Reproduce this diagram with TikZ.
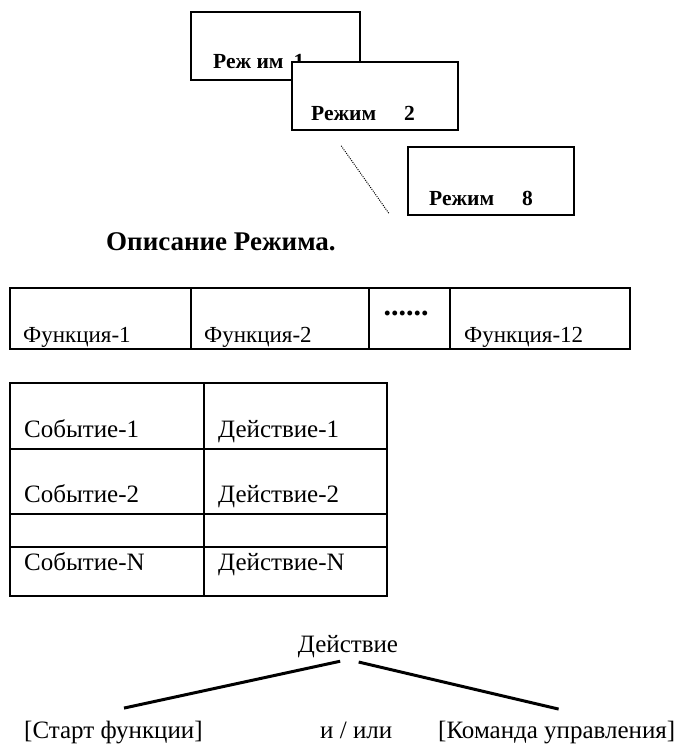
\documentclass[tikz,border=0pt]{standalone}
\usepackage{fontspec}
\setmainfont{Liberation Serif}
\usetikzlibrary{calc}
\begin{document}
\begin{tikzpicture}[x=1pt, y=-1pt,
    modebox/.style={draw, rectangle, line width=1.6pt, fill=white, minimum height=68pt, inner sep=0pt},
    cell/.style={draw, rectangle, line width=1.2pt, inner sep=0pt},
    modetxt/.style={anchor=base west, inner sep=1pt, font=\fontsize{21.5}{24}\selectfont\bfseries},
    funtxt/.style={anchor=base west, inner sep=1pt, font=\fontsize{23}{27}\selectfont},
    celltxt/.style={anchor=base west, inner sep=1pt, font=\fontsize{25}{29}\selectfont},
    branch/.style={line width=3pt}]
    \useasboundingbox (0,0) rectangle (677,747);

    % режимы
    \node (mode1) [modebox, minimum width=169pt] at (275.5, 46) {};
    \node (mode1_txt) [modetxt] at (212, 68) {Реж им\hspace{10pt}1};
    \node (mode2) [modebox, minimum width=166pt] at (375, 96) {};
    \node (mode2_txt) [modetxt] at (310, 120) {Режим\hspace{28pt}2};
    \node (mode8) [modebox, minimum width=166pt] at (491, 181) {};
    \node (mode8_txt) [modetxt] at (428, 205) {Режим\hspace{28pt}8};
    \draw[line width=1pt, dash pattern=on 1pt off 1.2pt] ($(mode2.south west)+(50,15)$) -- ($(mode8.south west)+(-18,-2)$);

    \node (title) [anchor=base west, inner sep=1pt, font=\fontsize{27}{31}\selectfont\bfseries] at (105, 250) {Описание Режима.};

    % функции
    \node (fun1) [cell, minimum width=181pt, minimum height=61pt] at (100.5, 318.5) {};
    \node (fun2) [cell, minimum width=178pt, minimum height=61pt] at (280, 318.5) {};
    \node (fun_dots) [cell, minimum width=81pt, minimum height=61pt] at (409.5, 318.5) {};
    \node (fun12) [cell, minimum width=180pt, minimum height=61pt] at (540, 318.5) {};
    \node (fun1_txt) [funtxt] at (22, 342) {Функция-1};
    \node (fun2_txt) [funtxt] at (203, 342) {Функция-2};
    \node (dots_txt) [anchor=base, inner sep=1pt, font=\fontsize{30}{30}\selectfont\bfseries] at (406, 315) {......};
    \node (fun12_txt) [funtxt] at (463, 342) {Функция-12};

    % события и действия
    \node (evt1) [cell, minimum width=194pt, minimum height=66pt] at (107, 416) {};
    \node (act1) [cell, minimum width=183pt, minimum height=66pt] at (295.5, 416) {};
    \node (evt2) [cell, minimum width=194pt, minimum height=65pt] at (107, 481.5) {};
    \node (act2) [cell, minimum width=183pt, minimum height=65pt] at (295.5, 481.5) {};
    \node (evt_gap) [cell, minimum width=194pt, minimum height=33pt] at (107, 530.5) {};
    \node (act_gap) [cell, minimum width=183pt, minimum height=33pt] at (295.5, 530.5) {};
    \node (evtN) [cell, minimum width=194pt, minimum height=49pt] at (107, 571.5) {};
    \node (actN) [cell, minimum width=183pt, minimum height=49pt] at (295.5, 571.5) {};
    \node (evt1_txt) [celltxt] at (23, 437) {Событие-1};
    \node (act1_txt) [celltxt] at (217, 437) {Действие-1};
    \node (evt2_txt) [celltxt] at (23, 502) {Событие-2};
    \node (act2_txt) [celltxt] at (217, 502) {Действие-2};
    \node (evtN_txt) [celltxt] at (23, 570) {Событие-N};
    \node (actN_txt) [celltxt] at (217, 570) {Действие-N};

    % действие
    \node (action) [anchor=base, inner sep=2pt, font=\fontsize{25}{29}\selectfont] at (348, 652) {Действие};
    \node (start) [celltxt, inner sep=2pt] at (22, 738) {[Старт функции]};
    \node (andor) [celltxt, inner sep=2pt] at (318, 738) {и / или};
    \node (command) [celltxt, inner sep=2pt] at (436, 738) {[Команда управления]};
    \draw[branch, shorten <=8pt, shorten >=49pt] (action.south) -- (start.160);
    \draw[branch, shorten <=11pt, shorten >=41pt] (action.south) -- (command.18);
\end{tikzpicture}
\end{document}
